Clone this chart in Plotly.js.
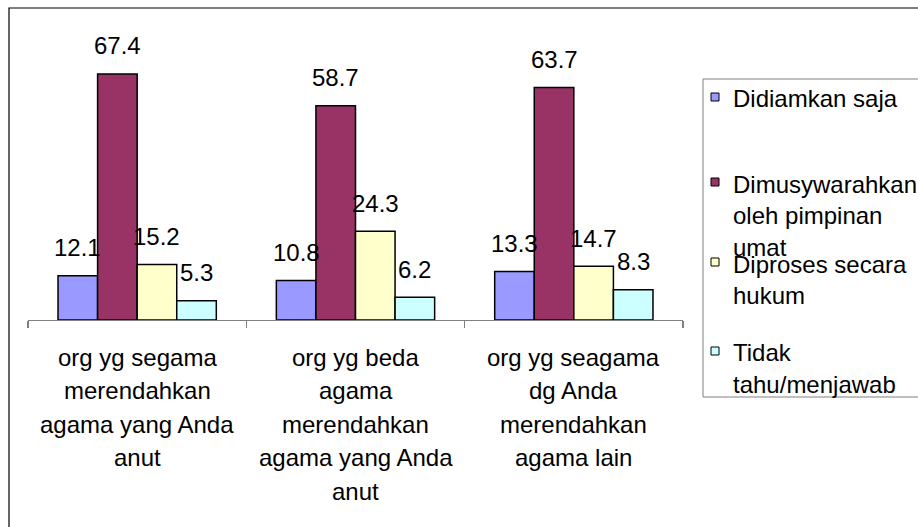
<!DOCTYPE html>
<html><head><meta charset="utf-8">
<script src="https://cdn.plot.ly/plotly-3.0.1.min.js"></script>
<style>html,body{margin:0;padding:0;background:#fff;overflow:hidden}#chart{width:918px;height:527px}</style>
</head><body><div id="chart"></div>
<script>
// ---- data ----
const categories = [
  "org yg segama<br>merendahkan<br>agama yang Anda<br>anut",
  "org yg beda<br>agama<br>merendahkan<br>agama yang Anda<br>anut",
  "org yg seagama<br>dg Anda<br>merendahkan<br>agama lain"
];
const seriesNames = ["Didiamkan saja", "Dimusywarahkan oleh pimpinan umat", "Diproses secara hukum", "Tidak tahu/menjawab"];
const legendLabels = ["Didiamkan saja", "Dimusywarahkan<br>oleh pimpinan<br>umat", "Diproses secara<br>hukum", "Tidak<br>tahu/menjawab"];
const didiamkan = [12.1, 10.8, 13.3];
const dimusywarahkan = [67.4, 58.7, 63.7];
const diproses = [15.2, 24.3, 14.7];
const tidakTahu = [5.3, 6.2, 8.3];
const seriesValues = [didiamkan, dimusywarahkan, diproses, tidakTahu];
const colors = ["#9999FF", "#993366", "#FFFFCC", "#CCFFFF"];

// ---- layout constants ----
const W = 918, H = 527;
const M = {l: 28, r: 235, t: 28, b: 207};
const BARGAP = 0.275;
const FONT = "Liberation Sans, Arial, sans-serif";
const FS = 24;
const pw = W - M.l - M.r, ph = H - M.t - M.b;
const px2x = p => (p - M.l) / pw;
const py2y = p => (H - M.b - p) / ph;

const xLabels = categories.map(c => c.replace(/<br>/g, " "));
const nS = seriesValues.length;
const bw = (1 - BARGAP) / nS;

const traces = seriesValues.map((vals, j) => ({
  type: "bar",
  name: seriesNames[j],
  x: xLabels,
  y: vals,
  marker: {color: colors[j], line: {color: "#000", width: 1.5}},
  hoverinfo: "skip"
}));

const annotations = [];
// value labels
seriesValues.forEach((vals, j) => {
  vals.forEach((v, i) => {
    annotations.push({
      x: i + (j - (nS - 1) / 2) * bw, y: v, xref: "x", yref: "y",
      text: String(v), showarrow: false, yanchor: "middle", xanchor: "center",
      yshift: 28, font: {family: FONT, size: FS, color: "#000"}
    });
  });
});
// category labels (one annotation per line)
categories.forEach((c, i) => {
  c.split("<br>").forEach((line, k) => {
    annotations.push({
      x: i, y: 0, xref: "x", yref: "paper", text: line, showarrow: false,
      xanchor: "center", yanchor: "middle", yshift: -(37 + k * 33.5),
      font: {family: FONT, size: FS, color: "#000"}
    });
  });
});

// custom legend
const legStarts = [99, 184, 264, 353];
const legLineGap = 31.5;
const shapes = [
  // outer frame
  {type: "rect", xref: "paper", yref: "paper", x0: px2x(9), x1: px2x(940), y0: py2y(8), y1: py2y(560),
   line: {color: "#000", width: 1.2}, fillcolor: "rgba(0,0,0,0)", layer: "below"},
  // legend box
  {type: "rect", xref: "paper", yref: "paper", x0: px2x(703), x1: px2x(940), y0: py2y(79), y1: py2y(397),
   line: {color: "#808080", width: 1}, fillcolor: "rgba(0,0,0,0)"}
];
legendLabels.forEach((lab, j) => {
  const yc = legStarts[j] - 2;
  shapes.push({type: "rect", xref: "paper", yref: "paper",
    x0: px2x(711), x1: px2x(719), y0: py2y(yc - 4), y1: py2y(yc + 4),
    fillcolor: colors[j], line: {color: "#000", width: 1}});
  lab.split("<br>").forEach((line, k) => {
    annotations.push({
      x: px2x(731), y: py2y(legStarts[j] + k * legLineGap), xref: "paper", yref: "paper",
      text: line, showarrow: false, xanchor: "left", yanchor: "middle",
      font: {family: FONT, size: FS, color: "#000"}
    });
  });
});

const layout = {
  width: W, height: H,
  margin: M,
  paper_bgcolor: "#fff", plot_bgcolor: "rgba(0,0,0,0)",
  barmode: "group", bargap: BARGAP, bargroupgap: 0,
  showlegend: false,
  font: {family: FONT, size: FS, color: "#000"},
  xaxis: {
    type: "category", showticklabels: false, showgrid: false, zeroline: false,
    showline: true, linecolor: "#808080", linewidth: 1.3,
    ticks: "outside", tickson: "boundaries", ticklen: 7, tickcolor: "#808080", tickwidth: 1.3,
    range: [-0.5, 2.5], fixedrange: true
  },
  yaxis: {
    range: [0, 80], showgrid: false, zeroline: false, showline: false,
    showticklabels: false, ticks: "", fixedrange: true
  },
  annotations: annotations,
  shapes: shapes
};

Plotly.newPlot("chart", traces, layout, {staticPlot: true, displayModeBar: false});
</script>
</body></html>
